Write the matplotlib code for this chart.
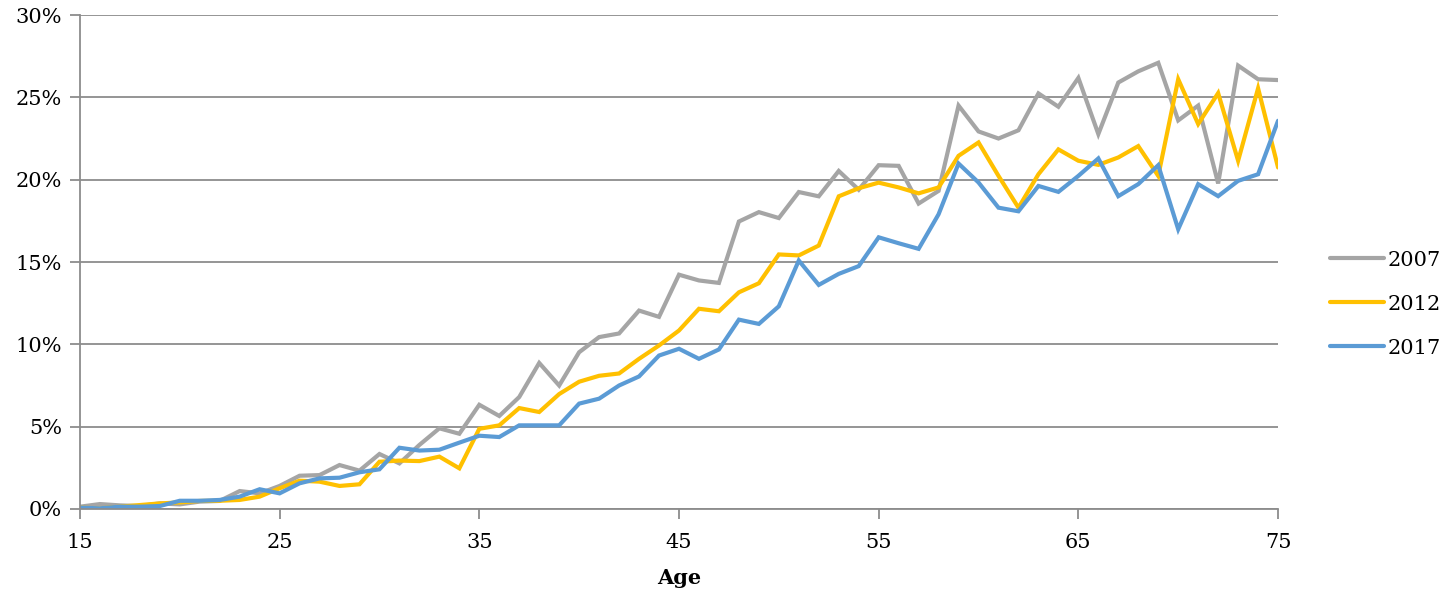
import matplotlib
matplotlib.use("Agg")
import matplotlib.pyplot as plt
from matplotlib.ticker import FuncFormatter, FixedLocator, MultipleLocator

ages = list(range(15, 76))

y2007 = [0.14, 0.30, 0.22, 0.18, 0.34, 0.28, 0.45, 0.49, 1.09, 0.95,
         1.40, 2.02, 2.06, 2.67, 2.33, 3.34, 2.77, 3.89, 4.90, 4.57,
         6.33, 5.65, 6.80, 8.87, 7.50, 9.52, 10.44, 10.66, 12.05, 11.67,
         14.23, 13.88, 13.73, 17.46, 18.03, 17.67, 19.25, 18.99, 20.53, 19.39,
         20.88, 20.84, 18.55, 19.32, 24.50, 22.93, 22.50, 23.00, 25.24, 24.43,
         26.18, 22.77, 25.90, 26.58, 27.10, 23.60, 24.50, 19.77, 26.93, 26.10,
         26.05]

y2012 = [0.08, 0.04, 0.14, 0.24, 0.34, 0.40, 0.49, 0.50, 0.55, 0.75,
         1.26, 1.72, 1.66, 1.40, 1.50, 2.87, 2.94, 2.91, 3.18, 2.47,
         4.87, 5.08, 6.13, 5.89, 6.98, 7.73, 8.09, 8.23, 9.12, 9.93,
         10.84, 12.16, 12.01, 13.16, 13.71, 15.46, 15.40, 16.00, 18.99, 19.48,
         19.82, 19.53, 19.17, 19.53, 21.45, 22.26, 20.23, 18.30, 20.33, 21.84,
         21.15, 20.90, 21.35, 22.04, 20.23, 26.10, 23.38, 25.26, 21.15, 25.55,
         20.74]

y2017 = [0.08, 0.04, 0.14, 0.14, 0.18, 0.50, 0.50, 0.55, 0.75, 1.20,
         0.95, 1.56, 1.86, 1.90, 2.23, 2.41, 3.72, 3.55, 3.60, 4.03,
         4.45, 4.37, 5.08, 5.08, 5.08, 6.40, 6.70, 7.50, 8.05, 9.32,
         9.73, 9.12, 9.69, 11.50, 11.24, 12.31, 15.09, 13.61, 14.28, 14.75,
         16.50, 16.14, 15.80, 17.90, 20.98, 19.83, 18.30, 18.08, 19.62, 19.26,
         20.23, 21.29, 19.00, 19.73, 20.88, 16.99, 19.73, 19.00, 19.93, 20.33,
         23.58]

x_ticks = [15, 25, 35, 45, 55, 65, 75]
series_labels = ["2007", "2012", "2017"]
colors = ["#A5A5A5", "#FFC000", "#5B9BD5"]

plt.rcParams['font.family'] = ['DejaVu Serif']

fig = plt.figure(figsize=(14.53, 5.94), dpi=100)
ax = fig.add_axes([0.055, 0.1431, 0.8246, 0.8316])

for vals, lab, col in zip([y2007, y2012, y2017], series_labels, colors):
    ax.plot(ages, vals, color=col, lw=3.0, label=lab, solid_joinstyle='miter',
            solid_capstyle='round')

ax.set_xlim(15, 75)
ax.set_ylim(0, 30)
ax.xaxis.set_major_locator(FixedLocator(x_ticks))
ax.yaxis.set_major_locator(MultipleLocator(5))
ax.yaxis.set_major_formatter(FuncFormatter(lambda v, p: f"{int(round(v))}%"))

grid_col = "#8C8C8C"
ax.grid(axis='y', color=grid_col, lw=1.3)
ax.set_axisbelow(True)
for s in ['top', 'right']:
    ax.spines[s].set_visible(False)
for s in ['left', 'bottom']:
    ax.spines[s].set_color(grid_col)
    ax.spines[s].set_linewidth(1.3)
ax.tick_params(axis='both', colors=grid_col, length=7, width=1.3,
               labelcolor='black', labelsize=15)
ax.tick_params(axis='x', pad=10)
ax.tick_params(axis='y', pad=6)

ax.set_xlabel("Age", fontsize=15, fontweight='bold', labelpad=12)

leg = ax.legend(loc='center left', bbox_to_anchor=(1.043, 0.415), frameon=False,
                fontsize=15, handlelength=2.6, handletextpad=0.2,
                labelspacing=1.2, borderaxespad=0, borderpad=0)

fig.savefig("out.png", dpi=100)
